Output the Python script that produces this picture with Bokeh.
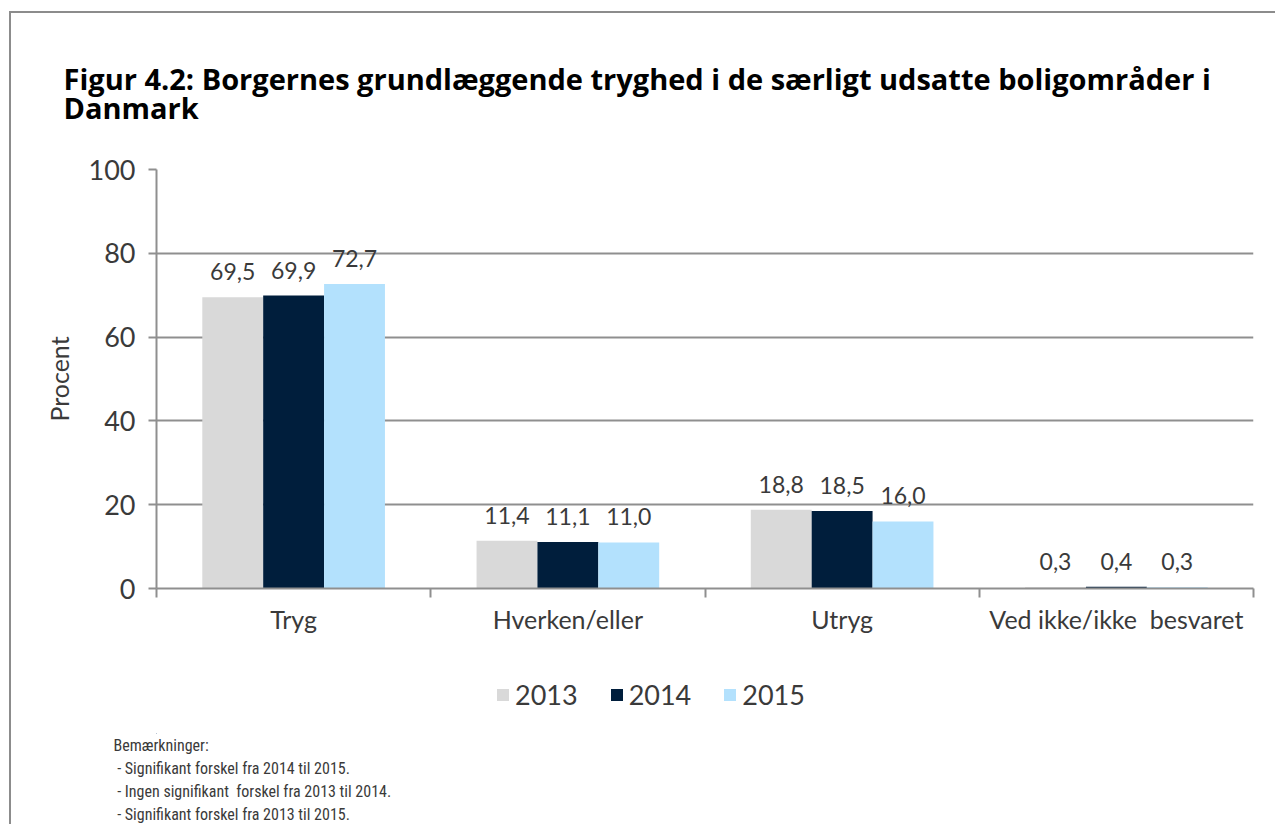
from bokeh.plotting import figure
from bokeh.layouts import column
from bokeh.models import (ColumnDataSource, FixedTicker, Grid, Legend, LegendItem,
                          LinearAxis, Range1d, Title)
from bokeh.core.properties import value
from bokeh.embed import file_html
from bokeh.resources import INLINE

categories = ["Tryg", "Hverken/eller", "Utryg", "Ved ikke/ikke \u00a0besvaret"]
years = ["2013", "2014", "2015"]
values_2013 = [69.5, 11.4, 18.8, 0.3]
values_2014 = [69.9, 11.1, 18.5, 0.4]
values_2015 = [72.7, 11.0, 16.0, 0.3]
colors = ["#d9d9d9", "#001e3c", "#b3e1fd"]
y_ticks = [0, 20, 40, 60, 80, 100]

title_lines = ["Figur 4.2: Borgernes grundlæggende tryghed i de særligt udsatte boligområder i",
               "Danmark"]
notes = ["Bemærkninger:",
         "\u00a0- Signifikant forskel fra 2014 til 2015.",
         "\u00a0- Ingen signifikant \u00a0forskel fra 2013 til 2014.",
         "\u00a0- Signifikant forskel fra 2013 til 2015."]

FONT = "Lato"
NARROW = "'Liberation Sans Narrow', 'Roboto Condensed', Roboto"
TITLE_FONT = "Open Sans"
TXT = "#3a3a3a"
GRID = "#8f8f8f"

W = 1264
H_CHART, H_BOT = 647, 164

# ---------------- chart
p = figure(width=W, height=H_CHART, output_backend="svg", toolbar_location=None,
           x_range=Range1d(0, 4), y_range=Range1d(0, 100),
           min_border_left=145, min_border_right=22, min_border_top=156, min_border_bottom=72,
           x_axis_type=None, y_axis_type=None)
p.title.visible = False
p.outline_line_color = None
p.background_fill_color = "white"
p.border_fill_color = "white"

yax = LinearAxis(ticker=FixedTicker(ticks=y_ticks), axis_label="Procent")
yax.axis_line_color = GRID
yax.axis_line_width = 2
yax.major_tick_line_color = GRID
yax.major_tick_line_width = 2
yax.major_tick_out = 8
yax.major_tick_in = 0
yax.minor_tick_line_color = None
yax.major_label_text_font = FONT
yax.major_label_text_font_size = "27px"
yax.major_label_text_color = TXT
yax.major_label_standoff = 13
yax.axis_label_text_font = FONT
yax.axis_label_text_font_size = "25px"
yax.axis_label_text_font_style = "normal"
yax.axis_label_text_color = TXT
yax.axis_label_standoff = 12
p.add_layout(yax, "left")

centers = [i + 0.5 for i in range(len(categories))]
xax = LinearAxis(ticker=FixedTicker(ticks=centers, minor_ticks=list(range(len(categories) + 1))))
xax.major_label_overrides = {c: cat for c, cat in zip(centers, categories)}
xax.axis_line_color = GRID
xax.axis_line_width = 2
xax.major_tick_line_color = None
xax.major_tick_out = 0
xax.major_tick_in = 0
xax.minor_tick_line_color = GRID
xax.minor_tick_line_width = 2
xax.minor_tick_out = 9
xax.minor_tick_in = 0
xax.major_label_text_font = FONT
xax.major_label_text_font_size = "25px"
xax.major_label_text_color = TXT
xax.major_label_standoff = 6
p.add_layout(xax, "below")

p.add_layout(Grid(dimension=1, ticker=yax.ticker, grid_line_color=GRID, grid_line_width=2))

bw = 0.222
offsets = [-bw, 0.0, bw]
series = [values_2013, values_2014, values_2015]
for yr, vals, off, col in zip(years, series, offsets, colors):
    src = ColumnDataSource(dict(x=[c + off for c in centers], top=vals,
                                lab=[f"{v:.1f}".replace(".", ",") for v in vals]))
    p.vbar(x="x", top="top", width=bw, source=src, fill_color=col, line_color=None)
    p.text(x="x", y="top", text="lab", source=src, text_align="center",
           text_baseline="bottom", y_offset=-17, text_font_size="23px",
           text_color=TXT, text_font=value(FONT))

# title above the chart
p.add_layout(Title(text="\n".join(title_lines), align="left", offset=-93, standoff=85,
                   text_font=TITLE_FONT, text_font_style="bold", text_font_size="29px",
                   text_line_height=0.74, text_color="black"), "above")

# ---------------- legend + notes
bot = figure(width=W, height=H_BOT, output_backend="svg", toolbar_location=None,
             x_range=Range1d(20, 24), y_range=Range1d(200, 300),
             min_border_left=145, min_border_right=22, min_border_top=0, min_border_bottom=85,
             x_axis_type=None, y_axis_type=None)
bot.title.visible = False
bot.outline_line_color = None
bot.xgrid.visible = False
bot.ygrid.visible = False
bot.background_fill_color = "white"
bot.border_fill_color = "white"

items = []
for yr, vals, off, col in zip(years, series, offsets, colors):
    # legend proxies: the same bars, placed far outside this panel's visible ranges
    r = bot.vbar(x=[c + off for c in centers], top=vals, width=bw, fill_color=col, line_color=None)
    items.append(LegendItem(label=yr, renderers=[r]))
legend = Legend(items=items, orientation="horizontal", location=(339, 22),
                glyph_width=15, glyph_height=15, label_standoff=5, spacing=31,
                label_text_font=FONT, label_text_font_size="27px", label_text_color=TXT,
                padding=0, margin=0, border_line_color=None, background_fill_alpha=0)
bot.add_layout(legend, "center")

bot.add_layout(Title(text="\n".join(notes), align="left", offset=-43, standoff=0,
                     text_font=NARROW, text_font_size="16px", text_font_style="normal",
                     text_line_height=1.22, text_color=TXT), "below")

page = column(p, bot, spacing=0,
              styles={"border-left": "2px solid #8c8c8c", "border-top": "2px solid #8c8c8c",
                      "margin-left": "9px", "margin-top": "11px"})

open("out.html", "w").write(file_html(page, INLINE))
